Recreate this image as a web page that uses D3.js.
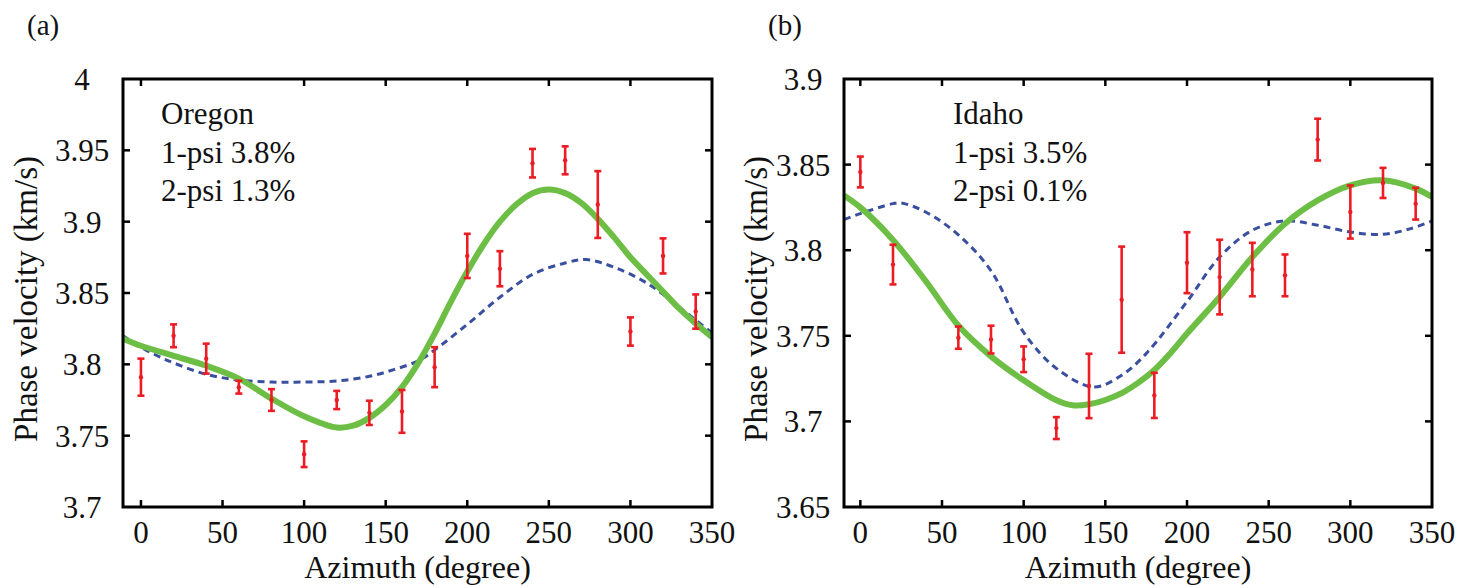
<!DOCTYPE html>
<html>
<head>
<meta charset="utf-8">
<script src="https://cdn.jsdelivr.net/npm/d3@7"></script>
<style>
  @font-face {
    font-family: "ChartSerif";
    src: local("Liberation Serif"), local("LiberationSerif"), local("LiberationSerif-Regular");
  }
</style>
</head>
<body style="margin:0">
<svg id="chart" width="1472" height="588"></svg>
<script>
// ── Data ─────────────────────────────────────────────────────────────────────

// (a) Oregon measurements
const oregonAz  = [0, 20, 40, 60, 80, 100, 120, 140, 160, 180, 200, 220, 240, 260, 280, 300, 320, 340];
const oregonVel = [3.791, 3.820, 3.804, 3.784, 3.775, 3.737, 3.775, 3.766, 3.767, 3.798, 3.876, 3.867, 3.941, 3.943, 3.912, 3.823, 3.876, 3.837];
const oregonErr = [0.013, 0.008, 0.0105, 0.0045, 0.0076, 0.009, 0.0064, 0.0085, 0.015, 0.014, 0.0155, 0.0123, 0.010, 0.0098, 0.0234, 0.0099, 0.0123, 0.012];

// (a) fitted curves
const oregonSolidAz  = [-11, 0, 20, 40, 60, 80, 100, 120, 130, 140, 150, 160, 170, 180, 190, 200, 210, 220, 230, 240, 250, 260, 270, 280, 290, 300, 310, 320, 330, 340, 350];
const oregonSolidVel = [3.818, 3.813, 3.806, 3.799, 3.790, 3.776, 3.7636, 3.7557, 3.757, 3.7625, 3.7715, 3.784, 3.801, 3.8215, 3.844, 3.865, 3.884, 3.900, 3.912, 3.920, 3.9225, 3.920, 3.913, 3.902, 3.889, 3.875, 3.863, 3.851, 3.839, 3.8286, 3.819];
const oregonDashAz   = [-11, 0, 10, 20, 40, 60, 80, 100, 120, 140, 155, 170, 180, 200, 220, 240, 260, 273, 290, 310, 330, 350];
const oregonDashVel  = [3.820, 3.812, 3.806, 3.801, 3.793, 3.789, 3.7876, 3.7876, 3.7883, 3.7916, 3.7963, 3.8025, 3.810, 3.828, 3.847, 3.863, 3.871, 3.8734, 3.868, 3.857, 3.840, 3.822];

// (b) Idaho measurements
const idahoAz  = [0, 20, 60, 80, 100, 120, 140, 160, 180, 200, 220, 240, 260, 280, 300, 320, 340];
const idahoVel = [3.8457, 3.7916, 3.7489, 3.7478, 3.7363, 3.6961, 3.7207, 3.7711, 3.7152, 3.7927, 3.7843, 3.7887, 3.7853, 3.8646, 3.8223, 3.8393, 3.8272];
const idahoErr = [0.009, 0.0116, 0.0065, 0.0081, 0.0075, 0.0064, 0.0188, 0.031, 0.0132, 0.0178, 0.0218, 0.0156, 0.0122, 0.0122, 0.0155, 0.0088, 0.0093];

// (b) fitted curves
const idahoSolidAz  = [-10, 0, 20, 40, 60, 80, 100, 120, 130, 140, 150, 160, 170, 180, 190, 200, 220, 240, 260, 280, 300, 320, 340, 350];
const idahoSolidVel = [3.832, 3.825, 3.806, 3.782, 3.756, 3.738, 3.724, 3.7123, 3.7094, 3.7100, 3.7125, 3.7165, 3.7225, 3.7300, 3.740, 3.7513, 3.7727, 3.796, 3.8155, 3.8291, 3.8379, 3.8408, 3.836, 3.8311];
const idahoDashAz   = [-10, 0, 20, 25, 40, 60, 80, 100, 120, 143, 160, 175, 200, 220, 240, 260, 280, 300, 320, 337, 350];
const idahoDashVel  = [3.8179, 3.8214, 3.8272, 3.8276, 3.8223, 3.809, 3.788, 3.752, 3.731, 3.7201, 3.727, 3.7396, 3.770, 3.796, 3.8116, 3.8171, 3.8146, 3.8106, 3.8093, 3.8126, 3.8171];

// ── Axes ticks ───────────────────────────────────────────────────────────────

const xTicks = [0, 50, 100, 150, 200, 250, 300, 350];
const xTickLabels = ["0", "50", "100", "150", "200", "250", "300", "350"];
const topTicksA = [0, 100, 150, 200, 250, 300];
const topTicksB = [0, 50, 100, 150, 200, 250, 300];

const yTicksA = [3.7, 3.75, 3.8, 3.85, 3.9, 3.95, 4];
const yTickLabelsA = ["3.7", "3.75", "3.8", "3.85", "3.9", "3.95", "4"];
const yTicksB = [3.65, 3.7, 3.75, 3.8, 3.85, 3.9];
const yTickLabelsB = ["3.65", "3.7", "3.75", "3.8", "3.85", "3.9"];

// ── Styling ──────────────────────────────────────────────────────────────────

const RED = "#ec1c24";
const GREEN = "#6dbe45";
const BLUE = "#3a4fa0";
const FONT = 31;
const SERIF = '"Liberation Serif", ChartSerif, "Times New Roman", Tinos, serif';

const svg = d3.select("#chart");
svg.append("rect").attr("width", 1472).attr("height", 588).attr("fill", "#fff");

function setFont(sel) {
  sel.attr("font-family", SERIF).style("font-family", SERIF).style("font-style", "normal").style("font-weight", "400");
}

function drawPanel(cfg) {
  const x = d3.scaleLinear().domain(cfg.xDomain).range([cfg.left, cfg.right]);
  const y = d3.scaleLinear().domain(cfg.yDomain).range([cfg.bottom, cfg.top]);
  const g = svg.append("g");

  const clipId = `clip-${cfg.id}`;
  svg.append("defs").append("clipPath").attr("id", clipId)
    .append("rect")
    .attr("x", cfg.left).attr("y", cfg.top)
    .attr("width", cfg.right - cfg.left).attr("height", cfg.bottom - cfg.top);

  // inward ticks on all four sides
  const tickLen = 7;
  const inner = (v) => v > cfg.yDomain[0] + 1e-9 && v < cfg.yDomain[1] - 1e-9;
  g.append("g").selectAll("line").data(cfg.xTicks.filter((v) => v < cfg.xDomain[1] - 1)).join("line")
    .attr("x1", (d) => x(d)).attr("x2", (d) => x(d))
    .attr("y1", cfg.bottom).attr("y2", cfg.bottom - tickLen)
    .attr("stroke", "#000").attr("stroke-width", 2.5);
  g.append("g").selectAll("line").data(cfg.topTicks).join("line")
    .attr("x1", (d) => x(d)).attr("x2", (d) => x(d))
    .attr("y1", cfg.top).attr("y2", cfg.top + tickLen)
    .attr("stroke", "#000").attr("stroke-width", 2.5);
  g.append("g").selectAll("line").data(cfg.yTicks.filter(inner)).join("line")
    .attr("x1", cfg.left).attr("x2", cfg.left + tickLen)
    .attr("y1", (d) => y(d)).attr("y2", (d) => y(d))
    .attr("stroke", "#000").attr("stroke-width", 2.5);
  g.append("g").selectAll("line").data(cfg.yTicks.filter(inner)).join("line")
    .attr("x1", cfg.right).attr("x2", cfg.right - tickLen)
    .attr("y1", (d) => y(d)).attr("y2", (d) => y(d))
    .attr("stroke", "#000").attr("stroke-width", 2.5);

  // fitted curves
  const line = d3.line().x((d) => x(d[0])).y((d) => y(d[1])).curve(d3.curveCatmullRom.alpha(0.5));
  const curves = g.append("g").attr("clip-path", `url(#${clipId})`);
  curves.append("path")
    .attr("d", line(d3.zip(cfg.dashAz, cfg.dashVel)))
    .attr("fill", "none").attr("stroke", BLUE).attr("stroke-width", 3)
    .attr("stroke-dasharray", "7,5");
  curves.append("path")
    .attr("d", line(d3.zip(cfg.solidAz, cfg.solidVel)))
    .attr("fill", "none").attr("stroke", GREEN).attr("stroke-width", 6);

  // error bars
  const pts = d3.zip(cfg.az, cfg.vel, cfg.err);
  const eb = g.append("g").selectAll("g").data(pts).join("g").attr("stroke", RED).attr("stroke-width", 2.6);
  eb.append("line")
    .attr("x1", (d) => x(d[0])).attr("x2", (d) => x(d[0]))
    .attr("y1", (d) => y(d[1] - d[2])).attr("y2", (d) => y(d[1] + d[2]));
  eb.append("line")
    .attr("x1", (d) => x(d[0]) - 3.5).attr("x2", (d) => x(d[0]) + 3.5)
    .attr("y1", (d) => y(d[1] + d[2])).attr("y2", (d) => y(d[1] + d[2]));
  eb.append("line")
    .attr("x1", (d) => x(d[0]) - 3.5).attr("x2", (d) => x(d[0]) + 3.5)
    .attr("y1", (d) => y(d[1] - d[2])).attr("y2", (d) => y(d[1] - d[2]));
  eb.append("circle")
    .attr("cx", (d) => x(d[0])).attr("cy", (d) => y(d[1])).attr("r", 2.2)
    .attr("fill", RED).attr("stroke", "none");

  // frame
  g.append("rect")
    .attr("x", cfg.left).attr("y", cfg.top)
    .attr("width", cfg.right - cfg.left).attr("height", cfg.bottom - cfg.top)
    .attr("fill", "none").attr("stroke", "#000").attr("stroke-width", 3);

  // texts
  const texts = [];
  cfg.xTicks.forEach((v, i) => texts.push({ x: x(v), y: cfg.bottom + 36, s: FONT, a: "middle", t: xTickLabels[i] }));
  cfg.yTicks.forEach((v, i) => texts.push({ x: cfg.yLabelX, y: Math.round(y(v)) + 10.5, s: FONT, a: "middle", t: cfg.yTickLabels[i] }));
  texts.push({ x: (cfg.left + cfg.right) / 2, y: 578, s: 32, a: "middle", t: "Azimuth (degree)" });
  texts.push({ x: cfg.letterX, y: 35, s: 29, a: "start", t: cfg.letter });
  cfg.notes.forEach((n, i) => texts.push({ x: cfg.noteX, y: Math.round(124 + i * 38.5), s: FONT, a: "start", t: n }));

  svg.selectAll(null).data(texts).join("text")
    .attr("class", "lbl")
    .attr("x", (d) => d.x).attr("y", (d) => d.y)
    .attr("font-size", (d) => d.s)
    .attr("text-anchor", (d) => d.a)
    .attr("fill", "#111")
    .call(setFont)
    .text((d) => d.t);

  svg.append("text")
    .attr("class", "lbl")
    .attr("transform", `translate(${cfg.titleX},${(cfg.top + cfg.bottom) / 2 + 6}) rotate(-90)`)
    .attr("text-anchor", "middle").attr("font-size", 33)
    .attr("fill", "#111")
    .call(setFont)
    .text("Phase velocity (km/s)");
}

drawPanel({
  id: "a", letter: "(a)", letterX: 27,
  left: 123, right: 712, top: 79, bottom: 507,
  xDomain: [-11, 350], yDomain: [3.7, 4],
  xTicks, topTicks: topTicksA,
  yTicks: yTicksA, yTickLabels: yTickLabelsA,
  yLabelX: 82, titleX: 37,
  az: oregonAz, vel: oregonVel, err: oregonErr,
  solidAz: oregonSolidAz, solidVel: oregonSolidVel,
  dashAz: oregonDashAz, dashVel: oregonDashVel,
  noteX: 161, notes: ["Oregon", "1-psi 3.8%", "2-psi 1.3%"],
});

drawPanel({
  id: "b", letter: "(b)", letterX: 768,
  left: 844, right: 1432, top: 79, bottom: 507,
  xDomain: [-10, 350], yDomain: [3.65, 3.9],
  xTicks, topTicks: topTicksB,
  yTicks: yTicksB, yTickLabels: yTickLabelsB,
  yLabelX: 803, titleX: 767,
  az: idahoAz, vel: idahoVel, err: idahoErr,
  solidAz: idahoSolidAz, solidVel: idahoSolidVel,
  dashAz: idahoDashAz, dashVel: idahoDashVel,
  noteX: 953, notes: ["Idaho", "1-psi 3.5%", "2-psi 0.1%"],
});

// re-apply once fonts are settled
if (document.fonts && document.fonts.ready) {
  document.fonts.ready.then(() => d3.selectAll("text.lbl").call(setFont));
}
</script>
</body>
</html>
